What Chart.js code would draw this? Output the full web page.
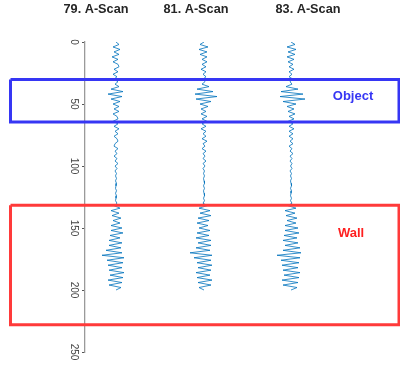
<!DOCTYPE html>
<html><head><meta charset="utf-8">
<script src="https://cdn.jsdelivr.net/npm/chart.js@4/dist/chart.umd.min.js"></script>
<style>html,body{margin:0;padding:0;background:#fff}#wrap{width:400px;height:369px;position:relative}</style>
</head><body><div id="wrap"><canvas id="c" width="400" height="369"></canvas></div>
<script>
// ---- data ----
const scanTitles = ['79. A-Scan', '81. A-Scan', '83. A-Scan'];
const scanColumns = [31, 119, 206];           // trace baselines on the x axis
const yTicks = [0, 50, 100, 150, 200, 250];   // depth ticks
const depthStep = 2;                          // depth units per sample

// amplitude per depth sample (depth 0,2,...,200)
const scan79 = [
  0,3,-3,4,-2,3,-4,2,
  -3,2,3,-2,2,-3,
  1,-2,2,-1,
  3,-5,7,-8,6,-5,4,-3,
  3,-2,3,-3,1,2,-3,2,-2,3,-1,2,
  -2,1,2,-1,-2,2,-1,1,-2,1,-1,2,-1,1,-1,
  0.5,-0.5,0.5,-0.5,0.5,0,-0.5,0.5,-0.5,0.5,0,-0.5,1,
  -2,4,-5,3,-4,5,-3,4,-5,
  6,-5,7,-6,4,-7,6,-7,5,
  -10,6,-14,8,-9,
  7,-8,6,-7,8,-6,7,-8,6,-7,5,0
];
const scan81 = [
  0,-4,4,-5,3,-4,3,-2,
  3,-2,2,-3,2,-1,
  2,-1,1,-2,
  5,-7,9,-9,13,-8,7,-4,
  4,-3,2,-3,3,-2,3,-2,2,-3,2,-1,
  2,-2,3,-1,1,-2,2,-1,1,-1,2,-1,1,-1,0.5,
  -0.5,0.5,-0.5,0,0.5,-0.5,0.5,-0.5,0,0.5,-0.5,0.5,-1,
  3,-5,6,-4,7,-6,5,-7,4,
  -5,6,-7,5,-8,7,-6,7,-8,
  6,-14,8,-10,7,
  -7,8,-6,7,-8,6,-7,8,-6,7,-5,0
];
const scan83 = [
  0,4,-4,5,-3,4,-4,3,
  -3,2,-2,3,-2,1,
  -2,2,-1,1,
  -5,7,-10,12,-11,14,-8,5,
  -4,3,-3,4,-2,3,-3,2,-2,3,-2,2,
  -2,2,-1,2,-2,1,-1,2,-1,1,-1,1,-0.5,1,-1,
  0.5,-0.5,0.5,-0.5,0,0.5,-0.5,0.5,0,-0.5,0.5,-0.5,1,
  -3,5,-6,4,-5,6,-4,5,-6,
  7,-6,8,-7,6,-8,7,-6,9,
  -8,10,-14,9,-10,
  8,-9,7,-8,9,-7,8,-9,7,-8,6,0
];
const regionNames = ['Object', 'Wall'];
const objectDepth = [30.2, 64.5];
const wallDepth = [131.7, 228];
const boxXSpan = [-74.5, 314];

// ---- build ----
const scans = [scan79, scan81, scan83];
function rect(x0, x1, y0, y1) {
  return [{x:x0,y:y0},{x:x1,y:y0},{x:x1,y:y1},{x:x0,y:y1},{x:x0,y:y0}];
}
const datasets = [
  { label: regionNames[0], data: rect(boxXSpan[0], boxXSpan[1], objectDepth[0], objectDepth[1]),
    borderColor: '#3636f4', borderWidth: 3, showLine: true, pointRadius: 0, clip: false, order: 0, borderJoinStyle: 'miter' },
  { label: regionNames[1], data: rect(boxXSpan[0], boxXSpan[1], wallDepth[0], wallDepth[1]),
    borderColor: '#ff3a3a', borderWidth: 3, showLine: true, pointRadius: 0, clip: false, order: 0, borderJoinStyle: 'miter' }
];
scans.forEach((s, k) => {
  datasets.push({
    label: scanTitles[k],
    data: s.map((v, i) => ({ x: scanColumns[k] + v, y: i * depthStep })),
    borderColor: '#0072BD', borderWidth: 0.8, showLine: true, pointRadius: 0, tension: 0, order: 1
  });
});

const textPlugin = {
  id: 'texts',
  afterDraw(chart) {
    const ctx = chart.ctx, xs = chart.scales.x, ys = chart.scales.y;
    ctx.save();
    ctx.textAlign = 'center';
    ctx.textBaseline = 'middle';
    ctx.fillStyle = '#262626';
    ctx.font = 'bold 12.7px "Liberation Sans", Arial, sans-serif';
    const titleX = [11, 111, 223];
    scanTitles.forEach((t, k) => ctx.fillText(t, xs.getPixelForValue(titleX[k]), 9));
    ctx.font = 'bold 13px "Liberation Sans", Arial, sans-serif';
    ctx.fillStyle = '#3636f4';
    ctx.fillText(regionNames[0], xs.getPixelForValue(268), ys.getPixelForValue(43.5));
    ctx.fillStyle = '#ff2020';
    ctx.fillText(regionNames[1], xs.getPixelForValue(266), ys.getPixelForValue(154));
    ctx.restore();
  }
};

new Chart(document.getElementById('c'), {
  type: 'scatter',
  data: { datasets },
  options: {
    responsive: false, animation: false, devicePixelRatio: 1,
    layout: { padding: { top: 42, bottom: 17, left: 0, right: 0 } },
    plugins: { legend: { display: false }, tooltip: { enabled: false } },
    scales: {
      x: { type: 'linear', display: false, min: 0, max: 315 },
      y: {
        type: 'linear', reverse: true, min: 0, max: 250,
        afterFit(s) { s.width = 85; },
        afterBuildTicks(s) { s.ticks = yTicks.map(v => ({ value: v })); },
        border: { display: true, color: '#9a9a9a', width: 1.3 },
        grid: { drawOnChartArea: false, drawTicks: true, tickLength: 3, color: '#555' },
        ticks: { minRotation: -90, maxRotation: -90, crossAlign: 'center', padding: 0,
                 color: '#444', font: { family: '"Liberation Sans", Arial, sans-serif', size: 10 } }
      }
    }
  },
  plugins: [textPlugin]
});
</script></body></html>
